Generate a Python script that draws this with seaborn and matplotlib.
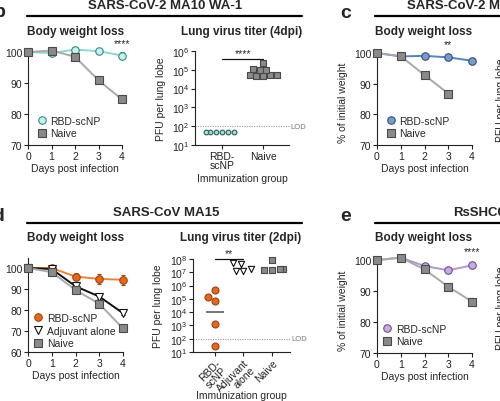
import numpy as np
import pandas as pd
import matplotlib
matplotlib.use('Agg')
import matplotlib.pyplot as plt
import seaborn as sns
from matplotlib.lines import Line2D
from matplotlib.ticker import NullLocator

# ---- data ----
days = [0, 1, 2, 3, 4]

# b: SARS-CoV-2 MA10 WA-1, body weight (% of initial)
b_rbd = [100, 99.7, 100.8, 100.3, 98.9]
b_rbd_err = [0.3, 0.4, 0.4, 0.4, 1.0]
b_naive = [100, 100.5, 98.5, 90.9, 84.7]
b_naive_err = [0.3, 0.4, 0.5, 0.6, 0.7]

# c: SARS-CoV-2 MA10 (second variant), body weight
c_naive_days = [0, 1, 2, 3]
c_rbd = [100, 98.9, 99.1, 98.6, 97.5]
c_rbd_err = [0.3, 0.5, 0.5, 1.0, 1.0]
c_naive = [100, 99.0, 92.8, 86.8]
c_naive_err = [0.3, 0.5, 0.6, 0.7]

# d: SARS-CoV MA15, body weight
d_rbd = [100, 100, 95.9, 94.8, 94.4]
d_rbd_err = [0.5, 0.8, 1.5, 2.5, 2.5]
d_adj = [100, 99.5, 91.3, 86.4, 78.5]
d_adj_err = [0.3, 0.5, 0.8, 1.0, 1.0]
d_naive = [100, 98.0, 89.5, 83.0, 71.2]
d_naive_err = [0.3, 0.5, 0.8, 1.2, 1.0]

# e: RsSHC014, body weight
e_rbd = [100, 100.8, 98.1, 96.7, 98.3]
e_rbd_err = [0.3, 0.4, 0.5, 0.5, 0.8]
e_naive = [100, 100.8, 97.0, 91.4, 86.6]
e_naive_err = [0.3, 0.4, 0.5, 0.6, 1.0]

# lung virus titers (PFU per lung lobe)
lung_b_groups = ['RBD-\nscNP', 'Naive']
lung_b_rbd = [50, 50, 50, 50, 50, 50]
lung_b_naive = [5.0e4, 5.3e4, 4.8e4, 5.2e4, 4.9e4, 9.5e4, 1.05e5, 9.8e4, 2.2e5]

lung_d_groups = ['RBD-\nscNP', 'Adjuvant\nalone', 'Naive']
lung_d_rbd = [4.7e5, 6.9e4, 1.4e5, 1.3e3, 29]
lung_d_adj = [4.2e7, 1.3e7, 1.8e7, 5.0e7, 1.25e7]
lung_d_naive = [8.3e7, 1.5e7, 1.6e7, 1.8e7, 1.7e7]
lod = 100

# ---- styles ----
NAIVE = dict(line='#a9a9a9', face='#8a8a8a', edge='#4a4a4a', marker='s')
TEAL = dict(line='#8fd6d2', face='#cdefea', edge='#2e8c86', marker='o')
BLUE = dict(line='#4f86c0', face='#7a9cc8', edge='#2f4f7a', marker='o')
ORANGE = dict(line='#e8843c', face='#e06a22', edge='#a5400a', marker='o')
ADJ = dict(line='#111111', face='white', edge='#111111', marker='v')
PURPLE = dict(line='#b496d0', face='#c6acdf', edge='#6d4f8c', marker='o')

sns.set_style('ticks')
plt.rcParams['font.family'] = ['Liberation Sans', 'DejaVu Sans']
plt.rcParams['axes.linewidth'] = 0.8
FS = 7.5

W, H = 500, 402
fig = plt.figure(figsize=(W / 100, H / 100), dpi=100)


def px_axes(left, right, top, bottom):
    return fig.add_axes([left / W, 1 - bottom / H, (right - left) / W, (bottom - top) / H])


def ftext(x, y, s, **kw):
    fig.text(x / W, 1 - y / H, s, **kw)


def hrule(x0, x1, y):
    fig.add_artist(Line2D([x0 / W, x1 / W], [1 - y / H, 1 - y / H], color='black', lw=1.6,
                          transform=fig.transFigure))


def style_axes(ax):
    sns.despine(ax=ax)
    ax.tick_params(direction='out', length=3, width=0.8, pad=1.2, labelsize=FS, colors='#222222')
    for s in ax.spines.values():
        s.set_color('#222222')


def weight_panel(ax, series, ylim, yticks, legend_anchor):
    handles = []
    for i, (label, x, y, err, st) in enumerate(series):
        df = pd.DataFrame({'day': x, 'weight': y})
        ms = 5.4 if st['marker'] != 'v' else 5.6
        ax.errorbar(x, y, yerr=err, fmt='none', ecolor=st['edge'], elinewidth=0.8,
                    capsize=1.5, capthick=0.8, zorder=2 + i)
        sns.lineplot(data=df, x='day', y='weight', ax=ax, color=st['line'], lw=1.4,
                     marker=st['marker'], markersize=ms, markerfacecolor=st['face'],
                     markeredgecolor=st['edge'], markeredgewidth=0.8, zorder=3 + i)
        handles.append(Line2D([], [], ls='none', marker=st['marker'], markersize=ms,
                              markerfacecolor=st['face'], markeredgecolor=st['edge'],
                              markeredgewidth=0.8, label=label))
    ax.set_xlim(0, 4)
    ax.set_ylim(*ylim)
    ax.set_xticks(days)
    ax.set_yticks(yticks)
    for art in ax.lines + ax.collections:
        art.set_clip_on(False)
    style_axes(ax)
    ax.set_xlabel('Days post infection', fontsize=FS, labelpad=1.5)
    ax.set_ylabel('% of initial weight', fontsize=FS)
    ax.yaxis.set_label_coords(-0.305, 0.45)
    ax.legend(handles=handles, loc='lower left', bbox_to_anchor=legend_anchor, frameon=False,
              fontsize=FS, borderpad=0, borderaxespad=0, handlelength=0.9, handletextpad=0.35,
              labelspacing=0.25)


def lung_panel(ax, groups, series, ylim, yticks, xlim, rotate):
    for vals, st, size in series:
        grp, pfu = vals
        df = pd.DataFrame({'group': grp, 'pfu': pfu})
        sns.swarmplot(data=df, x='group', y='pfu', order=groups, marker=st['marker'],
                      color=st['face'], edgecolor=st['edge'], linewidth=0.8, size=size,
                      log_scale=True, ax=ax, zorder=3)
    ax.set_xlim(*xlim)
    ax.set_ylim(*ylim)
    ax.set_yticks(yticks)
    ax.yaxis.set_minor_locator(NullLocator())
    ax.axhline(lod, color='#9a9a9a', lw=0.8, ls=(0, (1, 1.2)), zorder=1, clip_on=False)
    ax.text(1.01, lod, 'LOD', transform=ax.get_yaxis_transform(), fontsize=5.5,
            color='#777777', va='center', ha='left')
    for art in ax.collections:
        art.set_clip_on(False)
    style_axes(ax)
    ax.set_xticks(range(len(groups)))
    ax.set_xlabel('Immunization group', fontsize=FS, labelpad=1.5)
    if rotate:
        ax.set_xticklabels(groups, rotation=45, ha='right', rotation_mode='anchor',
                           fontsize=FS, linespacing=0.95)
        ax.xaxis.set_label_coords(0.5, -0.41)
    else:
        ax.set_xticklabels(groups, fontsize=FS, linespacing=0.95)
    ax.set_ylabel('PFU per lung lobe', fontsize=FS)
    ax.yaxis.set_label_coords(-0.31, 0.5)


# ---- panel b ----
ax = px_axes(28, 122, 50, 146)
weight_panel(ax, [('RBD-scNP', days, b_rbd, b_rbd_err, TEAL),
                  ('Naive', days, b_naive, b_naive_err, NAIVE)],
             (70, 101), [70, 80, 90, 100], (0.1, 0.07))
ax.text(4, 101.3, '****', ha='center', va='bottom', fontsize=7.5)

ax = px_axes(195, 289, 52, 146)
lung_b_teal = dict(face='#a8dcd5', edge='#2b5f5a', marker='o')
lung_panel(ax, lung_b_groups,
           [(([lung_b_groups[0]] * len(lung_b_rbd), lung_b_rbd), lung_b_teal, 3.4),
            (([lung_b_groups[1]] * len(lung_b_naive), lung_b_naive), NAIVE, 3.8)],
           (10, 1e6), [1e1, 1e2, 1e3, 1e4, 1e5, 1e6], (-0.66, 1.63), False)
ax.plot([0, 1], [3.7e5, 3.7e5], color='#111111', lw=0.9, clip_on=False)
ax.text(0.5, 4.3e5, '****', ha='center', va='bottom', fontsize=7.5)

# ---- panel c ----
ax = px_axes(377, 472, 51, 146)
weight_panel(ax, [('RBD-scNP', days, c_rbd, c_rbd_err, BLUE),
                  ('Naive', c_naive_days, c_naive, c_naive_err, NAIVE)],
             (70, 101), [70, 80, 90, 100], (0.1, 0.07))
ax.text(3, 101.2, '**', ha='center', va='bottom', fontsize=7.5)

# ---- panel d ----
ax = px_axes(28, 123, 258.5, 353)
weight_panel(ax, [('RBD-scNP', days, d_rbd, d_rbd_err, ORANGE),
                  ('Adjuvant alone', days, d_adj, d_adj_err, ADJ),
                  ('Naive', days, d_naive, d_naive_err, NAIVE)],
             (60, 105), [60, 70, 80, 90, 100], (0.06, 0.04))

ax = px_axes(193, 290, 260, 353)
lung_panel(ax, lung_d_groups,
           [(([lung_d_groups[0]] * len(lung_d_rbd), lung_d_rbd), ORANGE, 5.0),
            (([lung_d_groups[1]] * len(lung_d_adj), lung_d_adj), ADJ, 4.5),
            (([lung_d_groups[2]] * len(lung_d_naive), lung_d_naive), NAIVE, 4.5)],
           (10, 1e8), [1e1, 1e2, 1e3, 1e4, 1e5, 1e6, 1e7, 1e8], (-0.77, 2.63), True)
gmean = 10 ** np.mean(np.log10(lung_d_rbd))
ax.hlines(gmean, -0.32, 0.32, color='#6a6a6a', lw=1.3, zorder=2)
ax.plot([0, 1], [1e8, 1e8], color='#111111', lw=0.9, clip_on=False)
ax.text(0.5, 1.2e8, '**', ha='center', va='bottom', fontsize=7.5)

# ---- panel e ----
ax = px_axes(377, 472, 258, 354)
weight_panel(ax, [('RBD-scNP', days, e_rbd, e_rbd_err, PURPLE),
                  ('Naive', days, e_naive, e_naive_err, NAIVE)],
             (70, 101), [70, 80, 90, 100], (0.06, 0.07))
ax.text(4, 101.2, '****', ha='center', va='bottom', fontsize=7.5)

# ---- headings, rules and panel letters ----
ftext(165, 9, 'SARS-CoV-2 MA10 WA-1', ha='center', va='baseline', fontsize=9.5, weight='bold')
ftext(407, 9, 'SARS-CoV-2 MA10 B.1.351', ha='left', va='baseline', fontsize=9.5, weight='bold')
ftext(166, 216, 'SARS-CoV MA15', ha='center', va='baseline', fontsize=9.5, weight='bold')
ftext(453, 216, 'RsSHC014', ha='left', va='baseline', fontsize=9.5, weight='bold')
hrule(27, 302, 17)
hrule(375, 505, 17)
hrule(27, 302, 224)
hrule(375, 505, 224)

for x, y in [(76, 34.5), (424, 34.5), (76, 241), (424, 241)]:
    ftext(x, y, 'Body weight loss', ha='center', va='baseline', fontsize=8.5, weight='bold')
ftext(242, 34.5, 'Lung virus titer (4dpi)', ha='center', va='baseline', fontsize=8.5, weight='bold')
ftext(241, 241, 'Lung virus titer (2dpi)', ha='center', va='baseline', fontsize=8.5, weight='bold')

ftext(-6, 17, 'b', ha='left', va='baseline', fontsize=14, weight='bold')
ftext(340, 18, 'c', ha='left', va='baseline', fontsize=14, weight='bold')
ftext(-8, 221, 'd', ha='left', va='baseline', fontsize=14, weight='bold')
ftext(340, 221, 'e', ha='left', va='baseline', fontsize=14, weight='bold')

# y labels of the next (cropped) panels
ftext(501, 100, 'PFU per lung lobe', rotation=90, ha='center', va='center', fontsize=FS)
ftext(501, 308, 'PFU per lung lobe', rotation=90, ha='center', va='center', fontsize=FS)

fig.savefig('out.png', dpi=100)
